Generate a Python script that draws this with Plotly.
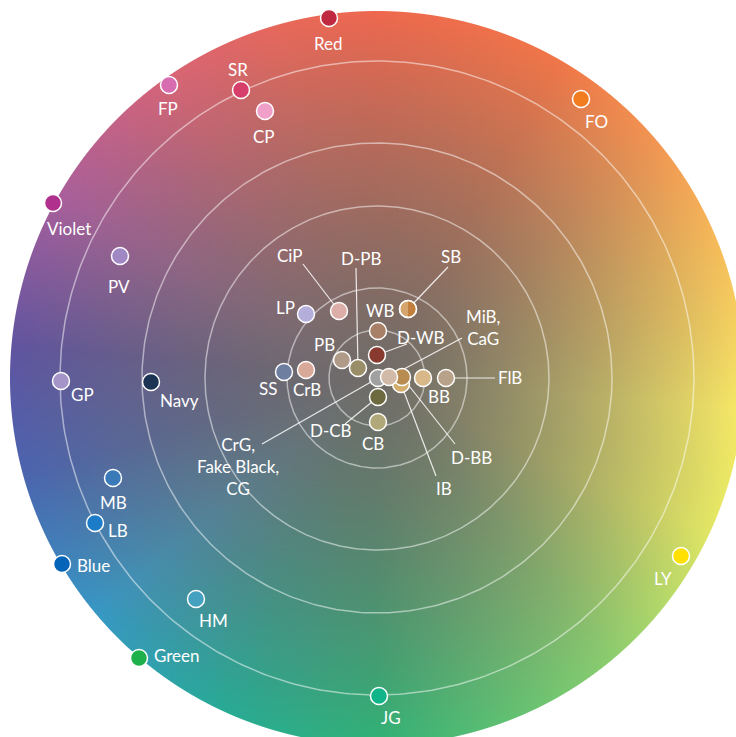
import numpy as np
import zlib, struct, base64
import plotly.graph_objects as go

# ---------------- data (chart units: pixels from wheel centre, y up) ----------------
names = ["Red", "SR", "FP", "CP", "FO", "Violet", "PV", "GP", "Navy", "MB", "LB", "Blue",
         "HM", "Green", "JG", "LY",
         "CiP", "D-PB", "SB", "LP", "WB", "D-WB", "PB", "SS", "CrB",
         "CrG,<br>Fake Black,<br>CG", "IB", "D-BB", "MiB,<br>CaG", "BB", "FlB", "D-CB", "CB"]
x_vals = [-48, -136, -208, -112, 204, -324, -257, -316, -226, -264, -282, -315,
          -181, -238, 2, 304,
          -38, -19, 31, -71, 1, 0, -35, -93, -71,
          1, 24, 25, 12, 46, 69, 1, 1]
y_vals = [360, 288, 293, 267, 279, 175, 122, -3, -4, -100, -145, -186,
          -221, -280, -318, -178,
          67, 10, 69, 64, 47, 23, 18, 6, 8,
          0, -6, 1, 1, 0, 0, -19, -44]
colors = ["#C02A40", "#D63F6A", "#D86CB0", "#F0A0C8", "#F27C20", "#B0308E", "#A088C4",
          "#A494C8", "#1C3454", "#3A7AB8", "#1C7CC8", "#0464B8", "#44A2C0", "#1EB04A",
          "#12B48A", "#FFE000",
          "#DDAEA8", "#9A8E68", "#D6A56E", "#B4AEDA", "#A88068", "#883A2E", "#B09A88",
          "#6E7EA0", "#D8A898", "#A0A0A0", "#D4AC6C", "#B88C50", "#D2BAA8", "#D8B888",
          "#B8A28A", "#6E6A40", "#B0A878"]
sb_second_color = "#C2803E"
ring_radii = [48, 90, 172, 235, 317]
wheel_radius = 367

# ---------------- layout helpers (label / leader offsets, px) ----------------
label_offset = {
    "Red": (-1, -25), "SR": (-3, 21), "FP": (-1, -23), "CP": (-1, -25), "FO": (15, -22),
    "Violet": (16, -25), "PV": (-1, -30), "GP": (21, -13), "Navy": (28, -18),
    "MB": (0, -24), "LB": (23, -7), "Blue": (31, -1), "HM": (17, -21), "Green": (38, 3),
    "JG": (12, -21), "LY": (-18, -22),
    "CiP": (-49, 56), "D-PB": (3, 110), "SB": (43, 53), "LP": (-21, 7), "WB": (2, 21),
    "D-WB": (44, 18), "PB": (-18, 16), "SS": (-16, -16), "CrB": (1, -19),
    "CrG,<br>Fake Black,<br>CG": (-140, -88), "IB": (43, -104), "D-BB": (69, -80),
    "MiB,<br>CaG": (94, 50), "BB": (16, -18), "FlB": (64, 1), "D-CB": (-47, -33),
    "CB": (-5, -21),
}
leader_tail = {
    "CiP": (-36, 47), "D-PB": (-2, 100), "SB": (40, 42), "D-WB": (30, 11),
    "MiB,<br>CaG": (73, 39), "CrG,<br>Fake Black,<br>CG": (-116, -66),
    "D-BB": (53, -67), "IB": (35, -92), "FlB": (49, 0), "D-CB": (-33, -27),
}

# ---------------- colour wheel background ----------------
hue_stops = [
    (0, (238, 104, 78)), (30, (240, 118, 72)), (50, (242, 150, 82)), (70, (246, 190, 90)),
    (95, (248, 234, 102)), (115, (225, 230, 100)), (140, (140, 205, 110)),
    (180, (48, 178, 118)), (205, (40, 170, 150)), (230, (55, 152, 196)),
    (255, (75, 100, 175)), (275, (96, 84, 160)), (300, (170, 95, 155)),
    (325, (215, 100, 118)), (345, (232, 104, 90)), (360, (238, 104, 78)),
]
centre_grey = np.array([112, 108, 104], dtype=float)


def wheel_png(R, N):
    half = R + 1
    c = (np.arange(N) + 0.5) * (2 * half / N) - half
    X, Y = np.meshgrid(c, -c)
    r = np.hypot(X, Y)
    ang = np.degrees(np.arctan2(X, Y)) % 360
    sa = [s[0] for s in hue_stops]
    rgb = np.stack([np.interp(ang, sa, [s[1][k] for s in hue_stops]) for k in range(3)], -1)
    t = np.clip(r / R, 0, 1)[..., None] ** 1.3
    out = centre_grey * (1 - t) + rgb * t
    alpha = np.clip(R + 0.5 - r, 0, 1) * 255
    img = np.concatenate([out, alpha[..., None]], -1).round().astype(np.uint8)
    h, w, _ = img.shape
    raw = np.concatenate([np.zeros((h, 1), np.uint8), img.reshape(h, w * 4)], 1).tobytes()

    def chunk(tag, d):
        return struct.pack(">I", len(d)) + tag + d + struct.pack(">I", zlib.crc32(tag + d) & 0xffffffff)
    png = (b"\x89PNG\r\n\x1a\n" + chunk(b"IHDR", struct.pack(">IIBBBBB", w, h, 8, 6, 0, 0, 0))
           + chunk(b"IDAT", zlib.compress(raw, 9)) + chunk(b"IEND", b""))
    return "data:image/png;base64," + base64.b64encode(png).decode(), half


src, half = wheel_png(wheel_radius, 2 * (wheel_radius + 1))

fig = go.Figure()
fig.add_layout_image(dict(source=src, xref="x", yref="y", x=-half, y=half,
                          sizex=2 * half, sizey=2 * half, sizing="stretch", layer="below"))

# rings as line traces (above the image, below the markers)
phi = np.linspace(0, 2 * np.pi, 361)
for rr in ring_radii:
    fig.add_trace(go.Scatter(x=rr * np.cos(phi), y=rr * np.sin(phi), mode="lines",
                             line=dict(color="rgba(255,255,255,0.5)", width=1.5),
                             hoverinfo="skip", showlegend=False))

pos = {n: (x, y) for n, x, y in zip(names, x_vals, y_vals)}
for n, (tx, ty) in leader_tail.items():
    mx, my = pos[n]
    fig.add_trace(go.Scatter(x=[mx + tx, mx], y=[my + ty, my], mode="lines",
                             line=dict(color="rgba(255,255,255,0.85)", width=1.2),
                             hoverinfo="skip", showlegend=False))

fig.add_trace(go.Scatter(x=x_vals, y=y_vals, mode="markers", hoverinfo="text", text=names,
                         marker=dict(size=17, color=colors, line=dict(color="white", width=1.5)),
                         showlegend=False))

# SB: two-tone marker
sbx, sby = pos["SB"]
th = np.linspace(-np.pi / 2, np.pi / 2, 40)
fig.add_trace(go.Scatter(x=sbx + 7.9 * np.cos(th), y=sby + 7.9 * np.sin(th), mode="lines",
                         fill="toself", fillcolor=sb_second_color, line=dict(width=0),
                         hoverinfo="skip", showlegend=False))
fig.add_trace(go.Scatter(x=[sbx], y=[sby], mode="markers", hoverinfo="skip", showlegend=False,
                         marker=dict(size=17, color="rgba(0,0,0,0)", line=dict(color="white", width=1.5))))

for n in names:
    dx, dy = label_offset[n]
    mx, my = pos[n]
    fig.add_annotation(x=mx + dx, y=my + dy, xref="x", yref="y", text=n, showarrow=False,
                       font=dict(family="Lato", size=17, color="white"), align="center")

fig.update_xaxes(range=[-377, 359], visible=False, fixedrange=True)
fig.update_yaxes(range=[-359, 378], visible=False, fixedrange=True)
fig.update_layout(width=736, height=737, margin=dict(l=0, r=0, t=0, b=0),
                  paper_bgcolor="white", plot_bgcolor="white")
fig.write_html("out.html", config={"displayModeBar": False},
               post_script="document.body.style.margin='0';")
